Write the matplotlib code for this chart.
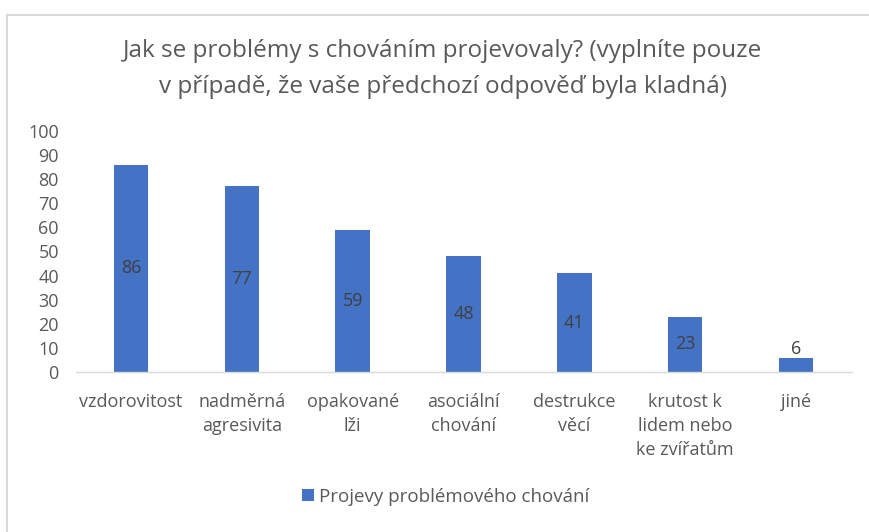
import matplotlib
matplotlib.use("Agg")
import matplotlib.pyplot as plt
from matplotlib.lines import Line2D
from matplotlib.patches import Patch

categories = ["vzdorovitost", "nadměrná\nagresivita", "opakované\nlži", "asociální\nchování",
              "destrukce\nvěcí", "krutost k\nlidem nebo\nke zvířatům", "jiné"]
values = [86, 77, 59, 48, 41, 23, 6]
yticks = [0, 10, 20, 30, 40, 50, 60, 70, 80, 90, 100]
series_name = "Projevy problémového chování"
title = "Jak se problémy s chováním projevovaly? (vyplníte pouze\nv případě, že vaše předchozí odpověď byla kladná)"

plt.rcParams['font.family'] = ["Open Sans", 'DejaVu Sans']

fig = plt.figure(figsize=(8.7, 5.32), dpi=100)
ax = fig.add_axes([75.5/870, 160/532, 776/870, 241/532])

bar_color = "#4472C4"
x = range(len(categories))
bars = ax.bar(x, values, width=0.31, color=bar_color, zorder=2)
ax.set_xlim(-0.5, len(categories) - 0.5)
ax.set_ylim(0, 100)
ax.set_yticks(yticks)
ax.set_xticks(list(x))
ax.set_xticklabels(categories, fontsize=13, color="#595959", linespacing=1.45, va="top")
ax.tick_params(axis='y', labelsize=13, labelcolor="#595959", length=0, pad=12)
ax.tick_params(axis='x', length=0, pad=15)
for s in ["top", "right", "left"]:
    ax.spines[s].set_visible(False)
ax.spines["bottom"].set_color("#d9d9d9")
ax.spines["bottom"].set_linewidth(1)

for b, v in zip(bars, values):
    ax.text(b.get_x() + b.get_width()/2, v/2 if v > 10 else v + 3.5, str(v),
            ha="center", va="center", fontsize=13, color="#404040", zorder=3)

fig.text(443/870, 1 - 69/532, title, ha="center", va="center", fontsize=17.5,
         color="#595959", linespacing=1.72)

h = Patch(facecolor=bar_color, edgecolor="none")
fig.legend([h], [series_name], loc="center", bbox_to_anchor=(446/870, 1 - 497/532),
           frameon=False, fontsize=13.5, labelcolor="#595959", handlelength=0.6,
           handleheight=0.6, handletextpad=0.3)

# chart area border
fig.add_artist(Line2D([7/870, 1], [1 - 15/532, 1 - 15/532], color="#d9d9d9", lw=1.5,
                      transform=fig.transFigure))
fig.add_artist(Line2D([7/870, 7/870], [0, 1 - 15/532], color="#d9d9d9", lw=1.5,
                      transform=fig.transFigure))

fig.savefig("out.png", dpi=100)
